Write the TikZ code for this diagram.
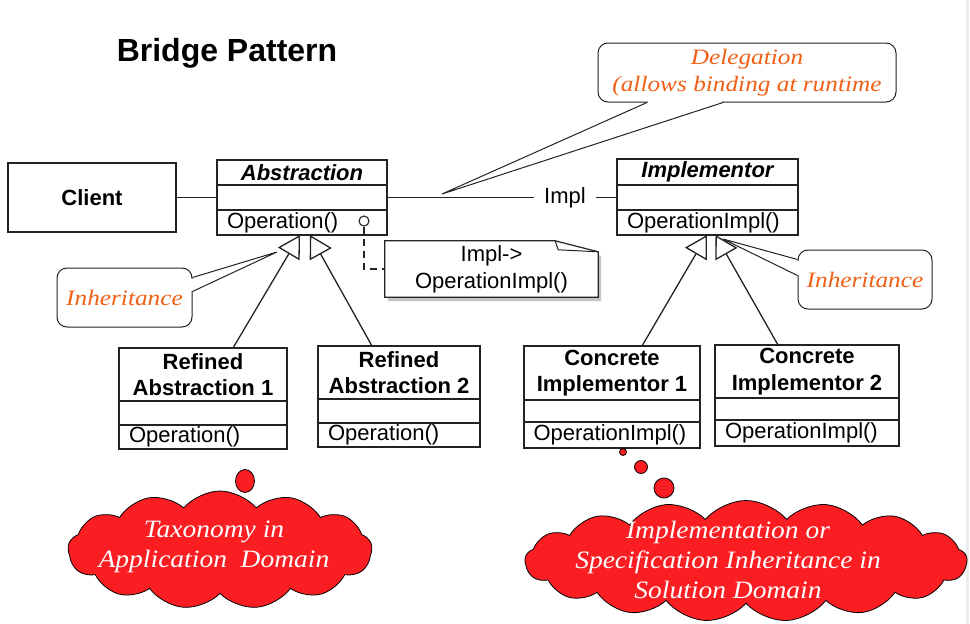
\documentclass[tikz,border=0pt]{standalone}
\usepackage{fontspec}
\usetikzlibrary{positioning,arrows.meta,shapes.symbols,shapes.geometric,shadows,backgrounds}
\newfontfamily\umlfont{Liberation Sans}
\newfontfamily\notefont{Liberation Serif}[FakeStretch=1.15]
\newfontfamily\cloudfont{Liberation Serif}[FakeStretch=1.1]
\definecolor{calloutorange}{RGB}{240,96,22}
\definecolor{cloudred}{RGB}{250,30,35}
\definecolor{umlline}{RGB}{35,35,35}

\begin{document}
\begin{tikzpicture}[x=1pt, y=-1pt,
  part/.style={draw=umlline, line width=1.3pt, minimum width=#1, inner sep=0pt, outer sep=0pt,
    font=\umlfont\fontsize{22}{26.5}\selectfont, align=center},
  oppart/.style n args={2}{part=#1, text width=#2, align=left},
  bold/.style={font=\umlfont\bfseries\fontsize{22}{26.5}\selectfont},
  assoc/.style={draw=umlline, line width=1.3pt},
  inherit/.style={draw=umlline, line width=1.3pt, -{Triangle[open, length=22pt, width=25pt]}},
  callout/.style={draw=umlline, line width=1pt, rounded corners=10pt, fill=white,
    font=\notefont\itshape\fontsize{22}{27}\selectfont, text=calloutorange, align=center},
  pointer/.style={draw=umlline, line width=1pt},
  cloudy/.style={cloud, cloud puffs=13, cloud puff arc=100, cloud ignores aspect,
    draw=black, line width=0.8pt, fill=cloudred, inner sep=0pt},
  cloudtext/.style={font=\cloudfont\itshape\fontsize{25}{30}\selectfont, text=white, align=center},
  bubble/.style={ellipse, draw=black, line width=0.8pt, fill=cloudred, inner sep=0pt}
  ]
  \useasboundingbox (0,0) rectangle (970,624);
  \fill[gray!15] (966,0) rectangle (969,624);

  \node[font=\umlfont\bfseries\fontsize{32}{36}\selectfont] (title) at (227,53) {Bridge Pattern};

  \node[part=168pt, minimum height=69pt, bold] (client) at (92,197.5) {Client};

  \node[part=170pt, minimum height=25pt, anchor=north, bold] (abs) at (302,160) {\itshape Abstraction};
  \node[part=170pt, minimum height=25pt, below=0pt of abs] (absattr) {};
  \node[oppart={170pt}{150pt}, minimum height=25pt, below=0pt of absattr] (absop) {Operation()};
  \node[draw=umlline, circle, minimum size=10pt, inner sep=0pt, line width=1.1pt] (absdot) at (364,221) {};

  \node[part=181pt, minimum height=26pt, anchor=north, bold] (impl) at (707.5,159) {\itshape Implementor};
  \node[part=181pt, minimum height=25pt, below=0pt of impl] (implattr) {};
  \node[oppart={181pt}{161pt}, minimum height=25pt, below=0pt of implattr] (implop) {OperationImpl()};

  \node[part=168pt, minimum height=53pt, anchor=north, bold] (ra1) at (203,348) {Refined\\Abstraction 1};
  \node[part=168pt, minimum height=24pt, below=0pt of ra1] (ra1attr) {};
  \node[oppart={168pt}{148pt}, minimum height=24pt, below=0pt of ra1attr] (ra1op) {Operation()};

  \node[part=162pt, minimum height=53pt, anchor=north, bold] (ra2) at (399,346) {Refined\\Abstraction 2};
  \node[part=162pt, minimum height=24pt, below=0pt of ra2] (ra2attr) {};
  \node[oppart={162pt}{142pt}, minimum height=24pt, below=0pt of ra2attr] (ra2op) {Operation()};

  \node[part=176pt, minimum height=54pt, anchor=north, bold] (ci1) at (612,346) {Concrete\\Implementor 1};
  \node[part=176pt, minimum height=22pt, below=0pt of ci1] (ci1attr) {};
  \node[oppart={176pt}{157pt}, minimum height=26pt, below=0pt of ci1attr] (ci1op) {OperationImpl()};

  \node[part=184pt, minimum height=53pt, anchor=north, bold] (ci2) at (807,345) {Concrete\\Implementor 2};
  \node[part=184pt, minimum height=22pt, below=0pt of ci2] (ci2attr) {};
  \node[oppart={184pt}{164pt}, minimum height=26pt, below=0pt of ci2attr] (ci2op) {OperationImpl()};

  \node[minimum width=213pt, minimum height=56pt, inner sep=0pt, align=center,
    font=\umlfont\fontsize{22}{27}\selectfont] (note) at (491.5,269) {Impl->\\OperationImpl()};
  \begin{scope}[on background layer]
    \draw[draw=umlline, line width=1.2pt, fill=white,
      drop shadow={opacity=0.45, shadow xshift=3pt, shadow yshift=-4pt}]
      (note.north west) -- ([xshift=-43pt]note.north east) -- ([yshift=-11pt]note.north east)
      -- (note.south east) -- (note.south west) -- cycle;
  \end{scope}
  \draw[draw=umlline, line width=1pt] ([xshift=-43pt]note.north east) -- ([xshift=-40pt,yshift=-9pt]note.north east)
    -- ([yshift=-11pt]note.north east);
  \draw[draw=umlline, line width=1.2pt, dash pattern=on 7pt off 5pt] (absdot.south) |- (note.west);

  \node[inner xsep=10pt, font=\umlfont\fontsize{22}{26.5}\selectfont] (impllbl) at (565,197.5) {Impl};
  \draw[assoc] (client.east) -- (absattr.west);
  \draw[assoc] (absattr.east) -- (impllbl.west);
  \draw[assoc] (impllbl.east) -- (implattr.west);

  \draw[inherit] ([xshift=30pt]ra1.north) -- ([xshift=-2pt]absop.south);
  \draw[inherit] ([xshift=-27pt]ra2.north) -- ([xshift=8pt]absop.south);
  \draw[inherit] ([xshift=30pt]ci1.north) -- ([xshift=-0.5pt]implop.south);
  \draw[inherit] ([xshift=-29pt]ci2.north) -- ([xshift=8pt]implop.south);

  \node[callout, minimum width=298pt, minimum height=59pt] (deleg) at (747,72.5) {Delegation\\(allows binding at runtime};
  \coordinate (delegtip) at (442,194);
  \fill[white] ([xshift=-99pt,yshift=1.5pt]deleg.south) rectangle ([xshift=-25pt,yshift=-1pt]deleg.south);
  \draw[pointer] ([xshift=-100pt]deleg.south) -- (delegtip) -- ([xshift=-24pt]deleg.south);

  \node[callout, minimum width=135pt, minimum height=59pt] (inhl) at (124.5,297.5) {Inheritance};
  \coordinate (inhltip) at (277,252);
  \fill[white] ([xshift=-1.5pt,yshift=19pt]inhl.east) rectangle ([xshift=1pt,yshift=7pt]inhl.east);
  \draw[pointer] ([yshift=20pt]inhl.east) -- (inhltip) -- ([yshift=6pt]inhl.east);

  \node[callout, minimum width=134pt, minimum height=59pt] (inhr) at (865,279.5) {Inheritance};
  \coordinate (inhrtip) at (723,239);
  \fill[white] ([xshift=-1pt,yshift=19pt]inhr.west) rectangle ([xshift=1.5pt,yshift=5pt]inhr.west);
  \draw[pointer] ([yshift=20pt]inhr.west) -- (inhrtip) -- ([yshift=4pt]inhr.west);

  \node[cloudy, minimum width=304pt, minimum height=118pt] (cloudl) at (220,550) {};
  \node[cloudtext] (taxo) at (214,547) {Taxonomy in\\Application\ \ Domain};
  \node[bubble, minimum width=19pt, minimum height=23pt] (bl) at (245,481) {};

  \node[cloudy, cloud puffs=17, cloud puff arc=100, minimum width=442pt, minimum height=121pt] (cloudr) at (746,561) {};
  \node[cloudtext] (solu) at (728,560) {Implementation or\\Specification Inheritance in\\Solution Domain};
  \node[bubble, minimum width=7pt, minimum height=7pt] (br1) at (623,452) {};
  \node[bubble, minimum width=13pt, minimum height=13pt] (br2) at (641,467) {};
  \node[bubble, minimum width=20pt, minimum height=20pt] (br3) at (664,488) {};
\end{tikzpicture}
\end{document}
